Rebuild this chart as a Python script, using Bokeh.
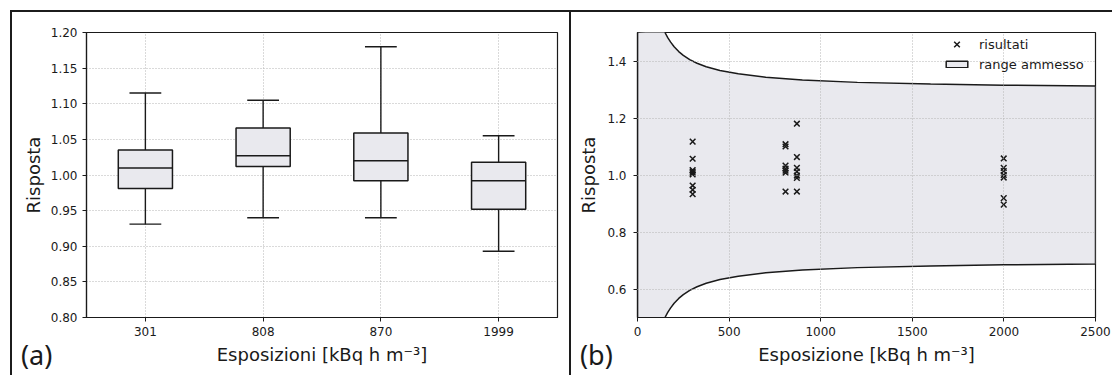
from bokeh.plotting import figure
from bokeh.models import (FactorRange, Range1d, FixedTicker, NumeralTickFormatter,
                          Legend, LegendItem, ColumnDataSource, Div)
from bokeh.layouts import row, column
from bokeh.transform import dodge
from bokeh.embed import file_html
from bokeh.resources import INLINE

# ---------------- panel (a): box plots ----------------
categories = ["301", "808", "870", "1999"]
whisker_low = [0.931, 0.940, 0.940, 0.893]
q1 = [0.981, 1.012, 0.992, 0.952]
median = [1.010, 1.027, 1.020, 0.992]
q3 = [1.035, 1.066, 1.059, 1.018]
whisker_high = [1.115, 1.105, 1.180, 1.055]
a_ylim = [0.80, 1.20]
a_yticks = [0.80, 0.85, 0.90, 0.95, 1.00, 1.05, 1.10, 1.15, 1.20]

# ---------------- panel (b): results and admitted range ----------------
exposures = [301, 808, 870, 1999]
res_301 = [0.933, 0.948, 0.963, 1.002, 1.007, 1.012, 1.017, 1.057, 1.117]
res_808 = [0.942, 1.008, 1.015, 1.022, 1.033, 1.100, 1.108]
res_870 = [0.942, 0.990, 0.998, 1.012, 1.025, 1.063, 1.180]
res_1999 = [0.896, 0.919, 0.991, 1.000, 1.014, 1.025, 1.058]
results = [res_301, res_808, res_870, res_1999]

band_x = [140, 150, 165, 180, 200, 225, 250, 285, 325, 375, 450, 550, 700, 900, 1200, 1600, 2000, 2500]
band_upper = [1.514, 1.500, 1.482, 1.467, 1.450, 1.433, 1.420, 1.405, 1.392, 1.380, 1.367, 1.355,
              1.343, 1.333, 1.325, 1.319, 1.315, 1.312]
band_lower = [0.486, 0.500, 0.518, 0.533, 0.550, 0.567, 0.580, 0.595, 0.608, 0.620, 0.633, 0.645,
              0.657, 0.667, 0.675, 0.681, 0.685, 0.688]
b_xlim = [0, 2500]
b_ylim = [0.5, 1.5]
b_xticks = [0, 500, 1000, 1500, 2000, 2500]
b_yticks = [0.6, 0.8, 1.0, 1.2, 1.4]

FONT = "DejaVu Sans"
PANEL_FONT = "Noto Sans"
INK = "#1a1a1a"
FILL = "#e9e9ee"


def style(p):
    p.outline_line_color = INK
    p.outline_line_width = 1.2
    p.outline_line_alpha = 1.0
    p.background_fill_color = "white"
    p.border_fill_color = "white"
    for ax in (p.xaxis[0], p.yaxis[0]):
        ax.axis_line_color = INK
        ax.axis_line_width = 1.2
        ax.major_tick_line_color = INK
        ax.major_tick_line_width = 1
        ax.major_tick_in = 0
        ax.major_tick_out = 4
        ax.minor_tick_line_color = None
        ax.major_label_text_font = FONT
        ax.major_label_text_font_size = "12px"
        ax.major_label_text_color = INK
        ax.axis_label_text_font = FONT
        ax.axis_label_text_font_size = "18px"
        ax.axis_label_text_font_style = "normal"
        ax.axis_label_text_color = INK
        ax.major_label_standoff = 5
        ax.axis_label_standoff = 5
    p.grid.grid_line_color = "#b4b4b4"
    p.grid.grid_line_dash = "1 2"
    p.grid.grid_line_width = 1


# ---------------- figure (a) ----------------
p1 = figure(width=557, height=363, x_range=FactorRange(factors=categories),
            y_range=Range1d(*a_ylim), output_backend="svg", toolbar_location=None,
            min_border_left=74, min_border_right=12, min_border_top=20, min_border_bottom=58)
style(p1)
p1.yaxis.ticker = FixedTicker(ticks=a_yticks)
p1.yaxis.formatter = NumeralTickFormatter(format="0.00")
p1.xaxis.axis_label = "Esposizioni [kBq h m\u207b\u00b3]"
p1.yaxis.axis_label = "Risposta"
p1.yaxis.axis_label_standoff = 4

src = ColumnDataSource(dict(cat=categories, lo=whisker_low, q1=q1, med=median, q3=q3, hi=whisker_high))
p1.segment(x0="cat", y0="q3", x1="cat", y1="hi", source=src, line_color=INK, line_width=1.4)
p1.segment(x0="cat", y0="q1", x1="cat", y1="lo", source=src, line_color=INK, line_width=1.4)
p1.segment(x0=dodge("cat", -0.135, range=p1.x_range), x1=dodge("cat", 0.135, range=p1.x_range),
           y0="hi", y1="hi", source=src, line_color=INK, line_width=1.4)
p1.segment(x0=dodge("cat", -0.135, range=p1.x_range), x1=dodge("cat", 0.135, range=p1.x_range),
           y0="lo", y1="lo", source=src, line_color=INK, line_width=1.4)
p1.vbar(x="cat", bottom="q1", top="q3", width=0.46, source=src,
        fill_color=FILL, line_color=INK, line_width=1.5)
p1.segment(x0=dodge("cat", -0.23, range=p1.x_range), x1=dodge("cat", 0.23, range=p1.x_range),
           y0="med", y1="med", source=src, line_color=INK, line_width=1.5)

# ---------------- figure (b) ----------------
p2 = figure(width=541, height=363, x_range=Range1d(*b_xlim), y_range=Range1d(*b_ylim),
            output_backend="svg", toolbar_location=None,
            min_border_left=66, min_border_right=17, min_border_top=16, min_border_bottom=58)
style(p2)
p2.xaxis.ticker = FixedTicker(ticks=b_xticks)
p2.yaxis.ticker = FixedTicker(ticks=b_yticks)
p2.yaxis.formatter = NumeralTickFormatter(format="0.0")
p2.xaxis.axis_label = "Esposizione [kBq h m\u207b\u00b3]"
p2.yaxis.axis_label = "Risposta"
p2.yaxis.major_label_standoff = 7

poly_x = [b_xlim[0]] + band_x + band_x[::-1] + [b_xlim[0]]
poly_y = [b_ylim[0]] + band_lower + band_upper[::-1] + [b_ylim[1]]
band = p2.patch(poly_x, poly_y, fill_color=FILL, line_color=INK, line_width=1.5)
p2.grid.level = "overlay"

sx = [e for e, r in zip(exposures, results) for _ in r]
sy = [v for r in results for v in r]
sc = p2.scatter(sx, sy, marker="x", size=8, line_color=INK, line_width=1.5)

legA = Legend(items=[LegendItem(label="risultati", renderers=[sc])], location=(306, 263),
              glyph_width=27, glyph_height=20, label_height=20, padding=0, margin=0, spacing=0,
              label_standoff=9, border_line_alpha=0, background_fill_alpha=0,
              label_text_font=FONT, label_text_font_size="13px", label_text_color=INK)
legB = Legend(items=[LegendItem(label="range ammesso", renderers=[band])], location=(306, 245),
              glyph_width=27, glyph_height=8, label_height=16, padding=0, margin=0, spacing=0,
              label_standoff=9, border_line_alpha=0, background_fill_alpha=0,
              label_text_font=FONT, label_text_font_size="13px", label_text_color=INK)
p2.add_layout(legA)
p2.add_layout(legB)

# ---------------- page frame lines and panel letters ----------------
line_style = {"background-color": "#1c1c1c"}
top_line = Div(text="", width=1102, height=2, margin=(10, 0, 0, 10), styles=line_style)
left_line = Div(text="", width=2, height=363, margin=(0, 0, 0, 10), styles=line_style)
mid_line = Div(text="", width=2, height=363, margin=(0, 0, 0, 0), styles=line_style)

letter_style = {"position": "relative", "z-index": "10", "font-family": PANEL_FONT,
                "font-size": "27px", "color": INK, "line-height": "36px"}
label_a = Div(text="(a)", width=60, height=36, margin=(-38, 0, 0, 21), styles=letter_style)
label_b = Div(text="(b)", width=60, height=36, margin=(-38, 0, 0, 499), styles=letter_style)

layout = column(top_line, row(left_line, p1, mid_line, p2, spacing=0),
                row(label_a, label_b, spacing=0), spacing=0)

with open("out.html", "w") as f:
    f.write(file_html(layout, INLINE))
